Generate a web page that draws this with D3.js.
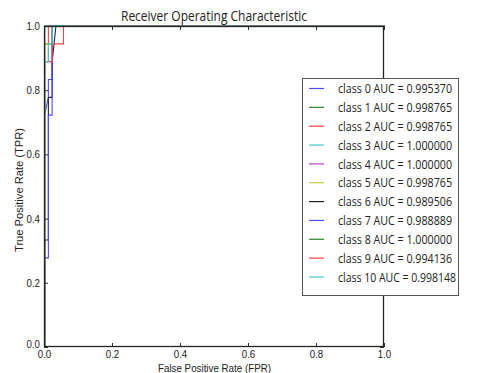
<!DOCTYPE html>
<html>
<head>
<meta charset="utf-8">
<script src="https://cdnjs.cloudflare.com/ajax/libs/d3/7.8.5/d3.min.js"></script>
<style>
  html, body { margin: 0; padding: 0; background: #fff; }
  svg { display: block; }
  text { font-family: "Open Sans", "Liberation Sans", Arial, sans-serif; fill: #222; }
  .lib { font-family: "Liberation Sans", Arial, sans-serif; }
</style>
</head>
<body>
<svg id="chart" width="483" height="373"></svg>
<script>
// ROC curves per class: [FPR, TPR] vertices (18 positives, 90 negatives per class)
const classNames = ["class 0", "class 1", "class 2", "class 3", "class 4", "class 5",
                    "class 6", "class 7", "class 8", "class 9", "class 10"];
const aucValues = ["0.995370", "0.998765", "0.998765", "1.000000", "1.000000", "0.998765",
                   "0.989506", "0.988889", "1.000000", "0.994136", "0.998148"];
const lineColors = ["#4a4aff", "#2a8a2a", "#ff4040", "#40c8c8", "#c840c8", "#c8c840",
                    "#222222", "#4a4aff", "#2a8a2a", "#ff4040", "#40c8c8"];

const roc0  = [[0, 0], [0, 13/18], [1/90, 14/18], [1/90, 15/18], [2/90, 15/18], [2/90, 1], [1, 1]];
const roc1  = [[0, 0], [0, 17/18], [2/90, 17/18], [2/90, 1], [1, 1]];
const roc2  = [[0, 0], [0, 16/18], [1/90, 16/18], [1/90, 1], [1, 1]];
const roc3  = [[0, 0], [0, 1], [1, 1]];
const roc4  = [[0, 0], [0, 1], [1, 1]];
const roc5  = [[0, 0], [0, 17/18], [2/90, 17/18], [2/90, 1], [1, 1]];
const roc6  = [[0, 0], [0, 6/18], [1/90, 6/18], [1/90, 14/18], [2/90, 14/18], [2/90, 16/18], [3/90, 1], [1, 1]];
const roc7  = [[0, 0], [0, 5/18], [1/90, 5/18], [1/90, 13/18], [2/90, 13/18], [2/90, 1], [1, 1]];
const roc8  = [[0, 0], [0, 1], [1, 1]];
const roc9  = [[0, 0], [0, 16/18], [2/90, 16/18], [2/90, 17/18], [5/90, 17/18], [5/90, 1], [1, 1]];
const roc10 = [[0, 0], [0, 16/18], [1/90, 16/18], [1/90, 17/18], [2/90, 17/18], [2/90, 1], [1, 1]];
const rocCurves = [roc0, roc1, roc2, roc3, roc4, roc5, roc6, roc7, roc8, roc9, roc10];

const tickValues = [0, 0.2, 0.4, 0.6, 0.8, 1.0];
const titleText = "Receiver Operating Characteristic";
const xLabelText = "False Positive Rate (FPR)";
const yLabelText = "True Positive Rate (TPR)";

const svg = d3.select("#chart");
svg.append("rect").attr("width", 483).attr("height", 373).attr("fill", "#fff");

const plotLeft = 44, plotRight = 384, plotTop = 26, plotBottom = 347;
const x = d3.scaleLinear().domain([0, 1]).range([plotLeft, plotRight]);
const y = d3.scaleLinear().domain([0, 1]).range([plotBottom, plotTop]);

// curves
const line = d3.line().x(d => x(d[0])).y(d => y(d[1]));
const plot = svg.append("g");
rocCurves.forEach((c, i) => {
  plot.append("path")
    .attr("d", line(c))
    .attr("fill", "none")
    .attr("stroke", lineColors[i])
    .attr("stroke-width", 1.1)
    .attr("transform", "translate(0.6,0)");
});

// axes: ticks pointing inward on all four sides
const fmt = d3.format(".1f");
const axB = svg.append("g").attr("transform", `translate(0,${plotBottom})`)
  .call(d3.axisBottom(x).tickValues(tickValues).tickFormat(fmt).tickSizeInner(-4).tickSizeOuter(0).tickPadding(3));
const axT = svg.append("g").attr("transform", `translate(0,${plotTop})`)
  .call(d3.axisTop(x).tickValues(tickValues).tickFormat("").tickSizeInner(-4).tickSizeOuter(0));
const axL = svg.append("g").attr("transform", `translate(${plotLeft},0)`)
  .call(d3.axisLeft(y).tickValues(tickValues).tickFormat(fmt).tickSizeInner(-4).tickSizeOuter(0).tickPadding(4));
const axR = svg.append("g").attr("transform", `translate(${plotRight},0)`)
  .call(d3.axisRight(y).tickValues(tickValues).tickFormat("").tickSizeInner(-4).tickSizeOuter(0));
[axB, axT, axL, axR].forEach(a => {
  a.select(".domain").remove();
  a.selectAll(".tick line").attr("stroke", "#333");
  a.selectAll("text").attr("class", "lib").attr("font-size", 10.5).attr("fill", "#333")
    .attr("textLength", 13.5).attr("lengthAdjust", "spacingAndGlyphs")
    .style("font-family", null);
});
axB.selectAll("text").attr("dy", "0.75em");
axL.selectAll("text").attr("dy", "0.34em");
// lift the bottom y label clear of the x-axis 0.0
axL.selectAll(".tick").filter(d => d === 0).select("text").attr("dy", "0.02em");

// frame
svg.append("rect")
  .attr("x", plotLeft + 0.5).attr("y", plotTop + 0.5)
  .attr("width", plotRight - plotLeft - 1).attr("height", plotBottom - plotTop - 1)
  .attr("fill", "none").attr("stroke", "#222").attr("stroke-width", 1.3);

// title and axis labels
svg.append("text").attr("x", 214).attr("y", 21).attr("text-anchor", "middle")
  .attr("font-size", 14).attr("textLength", 186).attr("lengthAdjust", "spacingAndGlyphs")
  .text(titleText);
svg.append("text").attr("class", "lib").attr("x", 214.5).attr("y", 372).attr("text-anchor", "middle")
  .attr("font-size", 11.5).attr("textLength", 113).attr("lengthAdjust", "spacingAndGlyphs")
  .text(xLabelText);
svg.append("text").attr("class", "lib").attr("transform", "translate(23,190) rotate(-90)").attr("text-anchor", "middle")
  .attr("font-size", 11.5).attr("textLength", 124).attr("lengthAdjust", "spacingAndGlyphs")
  .text(yLabelText);

// legend
const lg = svg.append("g");
lg.append("rect").attr("x", 302.5).attr("y", 78.5).attr("width", 156).attr("height", 217)
  .attr("fill", "#fff").attr("stroke", "#555").attr("stroke-width", 1);
classNames.forEach((name, i) => {
  const cy = 88.5 + i * 18.85;
  lg.append("line").attr("x1", 309).attr("x2", 324).attr("y1", cy).attr("y2", cy)
    .attr("stroke", lineColors[i]).attr("stroke-width", 1.2);
  const label = `${name} AUC = ${aucValues[i]}`;
  lg.append("text").attr("x", 338).attr("y", cy + 4.6).attr("font-size", 13)
    .attr("textLength", i === 10 ? 118 : 114).attr("lengthAdjust", "spacingAndGlyphs")
    .text(label);
});
</script>
</body>
</html>
